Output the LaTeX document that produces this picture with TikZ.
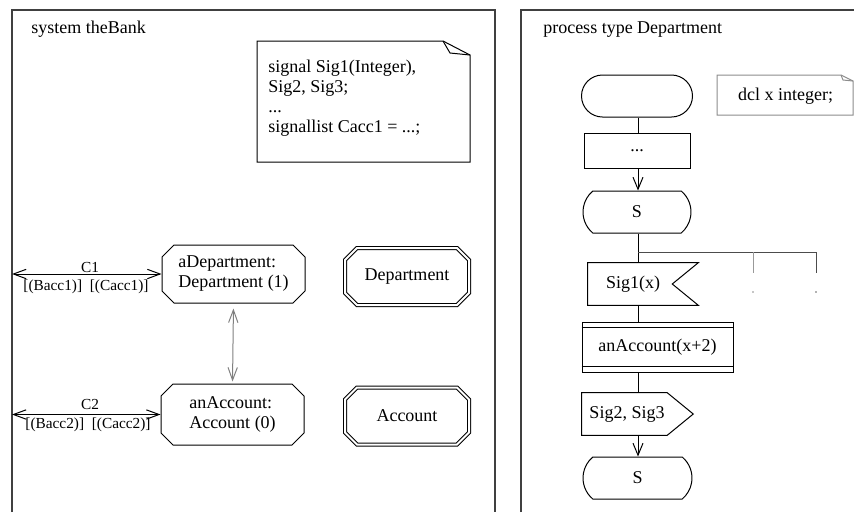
\documentclass[tikz,border=0pt]{standalone}
\usepackage{fontspec}
\setmainfont{Liberation Serif}
\usetikzlibrary{shapes.misc,arrows.meta}

\begin{document}
\begin{tikzpicture}[x=0.75pt,y=-0.75pt,
  every node/.style={font=\fontsize{13.5}{15}\selectfont, inner sep=0pt},
  lab/.style={font=\fontsize{11.5}{13}\selectfont},
  frame/.style={draw=black!75, line width=0.8pt},
  ln/.style={line width=0.75pt},
  tip/.style={-{Straight Barb[length=9pt,width=7.5pt]}},
  bitip/.style={{Straight Barb[length=9.5pt,width=7pt]}-{Straight Barb[length=9.5pt,width=7pt]}},
  oct/.style={chamfered rectangle, chamfered rectangle xsep=4.5pt,
    chamfered rectangle ysep=4.5pt, draw, line width=0.75pt},
  dbloct/.style={oct, double, double distance=1.5pt},
  term/.style={rounded rectangle, draw, line width=0.75pt},
  box/.style={rectangle, draw, line width=0.75pt},
  hold/.style={rectangle, draw=none},
]
\useasboundingbox (0,0) rectangle (854,512);

% ---------- system frame ----------
\draw[frame] (12,512) -- (12,10) -- (495,10) -- (495,512);
\node[anchor=base west] (systitle) at (31,33) {system theBank};

% text symbol with folded corner
\coordinate (nA) at (257,41);
\coordinate (nB) at (443,41);
\coordinate (nC) at (470,55);
\coordinate (nD) at (470,162);
\coordinate (nE) at (257,162);
\draw[ln] (nA) -- (nB) -- (nC) -- (nD) -- (nE) -- cycle;
\draw[ln] (nB) -- (450,53) -- (nC);
\node[anchor=north west, align=left] (sigdecl) at (268,60)
  {signal Sig1(Integer),\\Sig2, Sig3;\\...\\signallist Cacc1 = ...;};

% process sets
\node[oct, minimum width=107.25pt, minimum height=43.5pt, align=left]
  (aDep) at (233.5,274) {aDepartment:\\Department (1)};
\node[oct, minimum width=107.25pt, minimum height=45.75pt, align=left]
  (anAcc) at (232.5,414.5) {anAccount:\\Account (0)};

% process type references
\node[dbloct, minimum width=93pt, minimum height=42.75pt]
  (deptType) at (407,276.5) {Department};
\node[dbloct, minimum width=93pt, minimum height=42.75pt]
  (accType) at (407,416) {Account};

% channels
\coordinate (envC1) at (12,274);
\coordinate (envC2) at (12,414.5);
\draw[ln, bitip] (envC1) -- (aDep.west);
\draw[ln, bitip] (envC2) -- (anAcc.west);
\node[lab, anchor=base] (c1name) at (90,272) {C1};
\node[lab, anchor=base] (c1sig) at (86,290) {[(Bacc1)]\enspace[(Cacc1)]};
\node[lab, anchor=base] (c2name) at (90,409) {C2};
\node[lab, anchor=base] (c2sig) at (88,428) {[(Bacc2)]\enspace[(Cacc2)]};
\draw[ln, draw=black!50, bitip, shorten <=3.75pt, shorten >=1.5pt]
  (aDep.south) -- (anAcc.north);

% ---------- process type frame ----------
\draw[frame] (521,512) -- (521,10) -- (854,10);
\node[anchor=base west] (proctitle) at (543,33) {process type Department};

% declaration text symbol
\coordinate (dA) at (717,75);
\coordinate (dB) at (841,75);
\coordinate (dC) at (853,81);
\coordinate (dD) at (853,115);
\coordinate (dE) at (717,115);
\draw[ln, draw=black!45] (dA) -- (dB) -- (dC) -- (dD) -- (dE) -- cycle;
\draw[ln, draw=black!45] (dB) -- (843,80) -- (dC);
\node (dcl) at (785.5,96) {dcl x integer;};

% flow
\coordinate (flow) at (638,0);
\node[term, minimum width=83.25pt, minimum height=31.5pt] (start) at (637,96) {};
\node[box, minimum width=79.5pt, minimum height=26.25pt] (task) at (637,150.5) {...};
\node[term, rounded rectangle arc length=100, minimum width=81pt, minimum height=31.5pt]
  (stateS) at (637,212) {S};

\draw[ln] (start.south -| flow) -- (task.north -| flow);
\draw[ln, tip] (task.south -| flow) -- (stateS.north -| flow);

% input symbol
\node[hold, minimum width=82.5pt, minimum height=31.5pt] (sig1) at (643,284) {};
\draw[ln] (sig1.north west) -- (sig1.north east) -- ([xshift=-19.5pt]sig1.east)
  -- (sig1.south east) -- (sig1.south west) -- cycle;
\node (sig1txt) at (633,284) {Sig1(x)};

% branches towards further inputs
\coordinate (fork) at (638,252);
\coordinate (br1) at (753,273);
\coordinate (br2) at (816,273);
\draw[ln] (stateS.south -| flow) -- (sig1.north -| flow);
\draw[ln, draw=black!70] (fork) -| (br2);
\draw[ln, draw=black!40] (br1 |- fork) -- (br1);
\fill[black!45] (753,292) circle (0.7pt);
\fill[black!60] (816,292) circle (0.7pt);

% create request symbol
\node[box, minimum width=113.25pt, minimum height=37.5pt] (create) at (657.5,347) {anAccount(x+2)};
\draw[ln] ([yshift=-4.5pt]create.north west) -- ([yshift=-4.5pt]create.north east);
\draw[ln] ([yshift=4.5pt]create.south west) -- ([yshift=4.5pt]create.south east);
\draw[ln] (sig1.south -| flow) -- (create.north -| flow);

% output symbol
\node[hold, minimum width=83.25pt, minimum height=31.5pt] (out) at (637.5,414) {};
\draw[ln] (out.north west) -- ([xshift=-19.5pt]out.north east) -- (out.east)
  -- ([xshift=-19.5pt]out.south east) -- (out.south west) -- cycle;
\node (outtxt) at (627,414) {Sig2, Sig3};
\draw[ln] (create.south -| flow) -- (out.north -| flow);

% next state
\node[term, rounded rectangle arc length=100, minimum width=81.75pt, minimum height=31.5pt]
  (stateS2) at (637.5,478) {S};
\draw[ln, tip] (out.south -| flow) -- (stateS2.north -| flow);
\end{tikzpicture}
\end{document}
